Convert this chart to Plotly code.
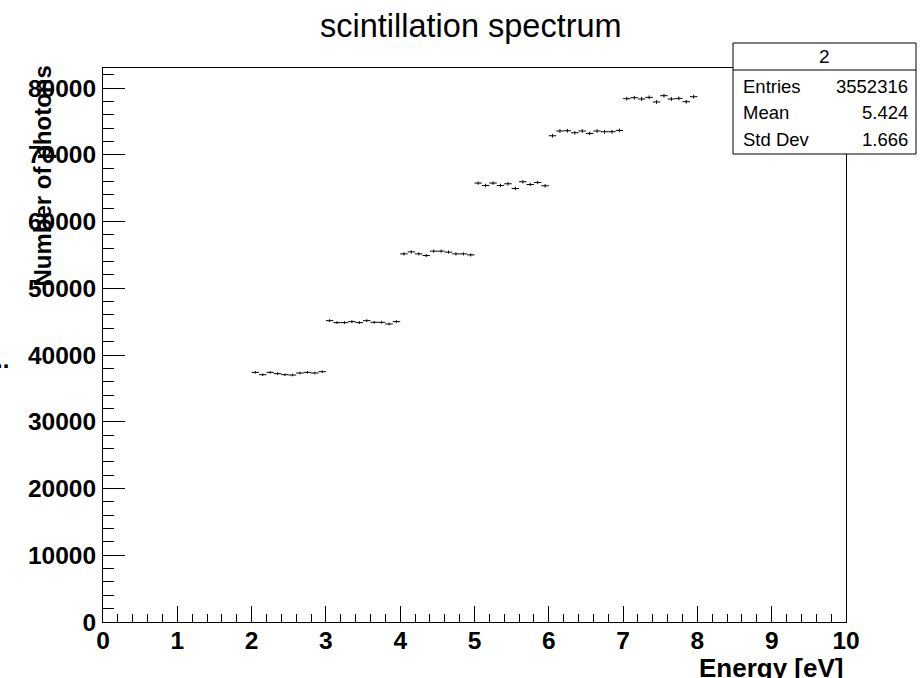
import plotly.graph_objects as go

# ---- data ----
bin_centers = [round(2.05 + 0.1 * i, 2) for i in range(60)]
counts_2_3 = [37400, 37050, 37400, 37200, 37050, 37000, 37300, 37400, 37300, 37500]
counts_3_4 = [45150, 44850, 44850, 45000, 44850, 45150, 44900, 44900, 44650, 45000]
counts_4_5 = [55150, 55450, 55150, 54900, 55560, 55560, 55410, 55150, 55150, 55000]
counts_5_6 = [65760, 65400, 65760, 65400, 65655, 64950, 65955, 65550, 65850, 65355]
counts_6_7 = [72850, 73560, 73600, 73300, 73560, 73200, 73560, 73450, 73450, 73650]
counts_7_8 = [78400, 78550, 78360, 78600, 77910, 78850, 78360, 78450, 77950, 78700]
counts = counts_2_3 + counts_3_4 + counts_4_5 + counts_5_6 + counts_6_7 + counts_7_8
errors = [c ** 0.5 for c in counts]
half_width = [0.05] * len(counts)

title_text = "scintillation spectrum"
x_title = "Energy [eV]"
y_title = "Number of photons"
stat_name = "2"
stat_labels = ["Entries", "Mean", "Std Dev"]
stat_values = ["3552316", "5.424", "1.666"]

# ---- layout geometry (pixels) ----
W, H = 920, 678
L, R, T, B = 103, 846, 68, 622


def px(x):
    return (x - L) / (R - L)


def py(y):
    return (B - y) / (B - T)


FONT = "Liberation Sans, Arial, Helvetica, sans-serif"

fig = go.Figure()
fig.add_trace(go.Scatter(
    x=bin_centers, y=counts, mode="markers",
    marker=dict(size=0.1, color="black"),
    error_x=dict(type="data", array=half_width, width=0, thickness=1, color="black"),
    error_y=dict(type="data", array=errors, width=0, thickness=1, color="black"),
    showlegend=False, hoverinfo="x+y",
))

axis_common = dict(
    showgrid=False, zeroline=False, showline=True, linecolor="black", linewidth=1,
    mirror=True, ticks="inside", tickcolor="black", tickwidth=1, tickformat="d",
    tickfont=dict(family=FONT, size=24.5, color="black", weight="bold"),
)

fig.update_layout(
    width=W, height=H,
    margin=dict(l=L, r=W - R, t=T, b=H - B, pad=0),
    paper_bgcolor="white", plot_bgcolor="white",
    xaxis=dict(range=[0, 10], dtick=1, tick0=0, ticklen=16,
               minor=dict(dtick=0.2, ticks="inside", ticklen=8, tickcolor="black"),
               ticklabelstandoff=-3, **axis_common),
    yaxis=dict(range=[0, 83000], dtick=10000, tick0=0, ticklen=22,
               minor=dict(dtick=2000, ticks="inside", ticklen=11, tickcolor="black"),
               ticklabelstandoff=1, **axis_common),
)

ann = []
# title
ann.append(dict(x=px(471), y=py(26), xref="paper", yref="paper", text=title_text,
                showarrow=False, xanchor="center", yanchor="middle",
                font=dict(family=FONT, size=32.5, color="black")))
# y axis title
ann.append(dict(x=px(42), y=py(64), xref="paper", yref="paper", text=y_title,
                showarrow=False, xanchor="center", yanchor="top", textangle=-90,
                font=dict(family=FONT, size=24, color="black", weight="bold")))
# x axis title (clipped at bottom edge like reference)
ann.append(dict(x=px(846), y=py(651), xref="paper", yref="paper", text=x_title,
                showarrow=False, xanchor="right", yanchor="top",
                font=dict(family=FONT, size=26, color="black", weight="bold")))
# stray dots at left edge
ann.append(dict(x=px(11), y=py(360), xref="paper", yref="paper", text="..",
                showarrow=False, xanchor="right", yanchor="middle",
                font=dict(family=FONT, size=24, color="black", weight="bold")))

# stat box
box_l, box_r, box_t, box_hdr, box_b = 733, 916, 43, 70, 154
shapes = [
    dict(type="rect", xref="paper", yref="paper", x0=px(box_l), x1=px(box_r),
         y0=py(box_b), y1=py(box_t), line=dict(color="black", width=1), fillcolor="white",
         layer="above"),
    dict(type="line", xref="paper", yref="paper", x0=px(box_l), x1=px(box_r),
         y0=py(box_hdr), y1=py(box_hdr), line=dict(color="black", width=1), layer="above"),
]
ann.append(dict(x=px((box_l + box_r) / 2), y=py(57), xref="paper", yref="paper",
                text=stat_name, showarrow=False, xanchor="center", yanchor="middle",
                font=dict(family=FONT, size=19, color="black")))
row_y = [86, 112, 139]
for lab, val, yy in zip(stat_labels, stat_values, row_y):
    ann.append(dict(x=px(741), y=py(yy), xref="paper", yref="paper", text=lab,
                    showarrow=False, xanchor="left", yanchor="middle",
                    font=dict(family=FONT, size=18.5, color="black")))
    ann.append(dict(x=px(910), y=py(yy), xref="paper", yref="paper", text=val,
                    showarrow=False, xanchor="right", yanchor="middle",
                    font=dict(family=FONT, size=18.5, color="black")))

fig.update_layout(annotations=ann, shapes=shapes)
fig.write_html("out.html", config={"displayModeBar": False})

# remove default page margin so the 920x678 figure fills the window exactly
with open("out.html", "r", encoding="utf-8") as f:
    html = f.read()
html = html.replace("<head>", "<head><style>html,body{margin:0;padding:0;overflow:hidden;}</style>", 1)
with open("out.html", "w", encoding="utf-8") as f:
    f.write(html)
